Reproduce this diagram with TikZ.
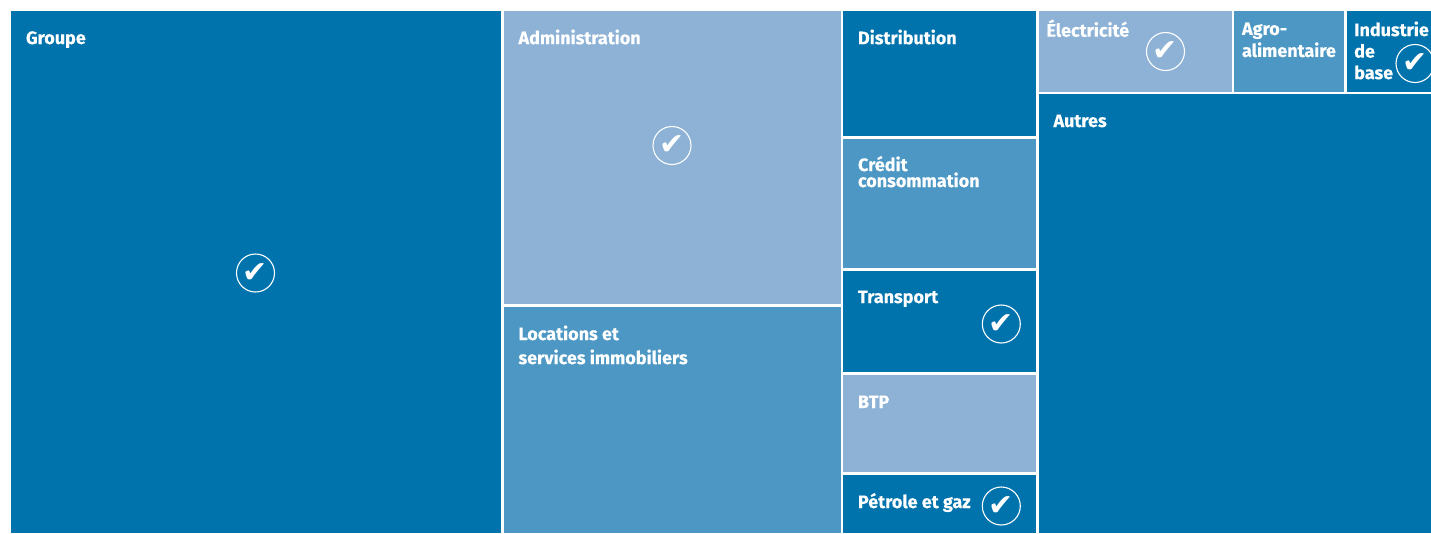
\documentclass[tikz,border=0pt]{standalone}
\usepackage{fontspec}
\setmainfont{Fira Sans}[BoldFeatures={FakeBold=0.25}]
\newfontfamily\symfont{DejaVu Sans}
\definecolor{dark}{HTML}{0073AD}
\definecolor{mid}{HTML}{4C97C4}
\definecolor{light}{HTML}{8DB2D6}
\tikzset{
  x=1pt,y=-1pt,
  cell/.style={inner sep=0pt,outer sep=0pt,draw=none},
  lbl/.style={anchor=north west,inner sep=0pt,outer sep=0pt,text=white,align=left,font=\fontsize{18}{#1}\selectfont\bfseries,execute at begin node=\rule{0pt}{14pt}},
  lbl/.default=24,
  tick/.style={circle,draw=white,line width=1.1pt,minimum size=38pt,inner sep=0pt,text=white,font=\symfont\fontsize{30}{30}\selectfont}
}
\newcommand{\cellbox}[6]{%
  \node[cell,fill=#6,minimum width={(#4-#2)*1pt},minimum height={(#5-#3)*1pt}] (#1) at ({(#2+#4)/2},{(#3+#5)/2}) {};}
\begin{document}
\begin{tikzpicture}
\useasboundingbox (0,0) rectangle (1431,533);
\cellbox{groupe}{11}{11}{500.7}{533}{dark}
\cellbox{admin}{503.5}{11}{840.5}{304}{light}
\cellbox{loc}{503.5}{306.8}{840.5}{533}{mid}
\cellbox{dist}{843.2}{11}{1036}{135.8}{dark}
\cellbox{credit}{843.2}{138.7}{1036}{268}{mid}
\cellbox{transport}{843.2}{270.7}{1036}{371.7}{dark}
\cellbox{btp}{843.2}{375}{1036}{472.4}{light}
\cellbox{petrole}{843.2}{475}{1036}{533}{dark}
\cellbox{elec}{1038.8}{11}{1231.7}{91.7}{light}
\cellbox{agro}{1234.4}{11}{1344}{91.7}{mid}
\cellbox{indus}{1346.7}{11}{1431}{91.7}{dark}
\cellbox{autres}{1038.8}{94.4}{1431}{533}{dark}
\node[lbl] (tgroupe) at (26,30) {Groupe};
\node[lbl] (tadmin) at (518.5,29.6) {Administration};
\node[lbl] (tloc) at (518.5,325.5) {Locations et\\services immobiliers};
\node[lbl] (tdist) at (858,29.6) {Distribution};
\node[lbl=16] (tcredit) at (858,156) {Crédit\\consommation};
\node[lbl] (ttrans) at (858,289) {Transport};
\node[lbl] (tbtp) at (858,394) {BTP};
\node[lbl] (tpet) at (858,493) {Pétrole et gaz};
\node[lbl] (telec) at (1046.5,19.5) {Électricité};
\node[lbl=22] (tagro) at (1242,22.5) {Agro-\\alimentaire};
\node[lbl=21.5] (tind) at (1354.2,21.5) {Industrie\\de\\base};
\node[lbl] (tautres) at (1053.5,113) {Autres};
\node[tick] (c1) at (255.5,273) {✔};
\node[tick] (c2) at (672,145.5) {✔};
\node[tick] (c3) at (1165.5,51.5) {✔};
\node[tick] (c4) at (1001.3,324) {✔};
\node[tick] (c5) at (1001.3,506) {✔};
\begin{scope}
\clip (0,0) rectangle (1431,533);
\node[tick] (c6) at (1415,63.5) {✔};
\end{scope}
\end{tikzpicture}
\end{document}
